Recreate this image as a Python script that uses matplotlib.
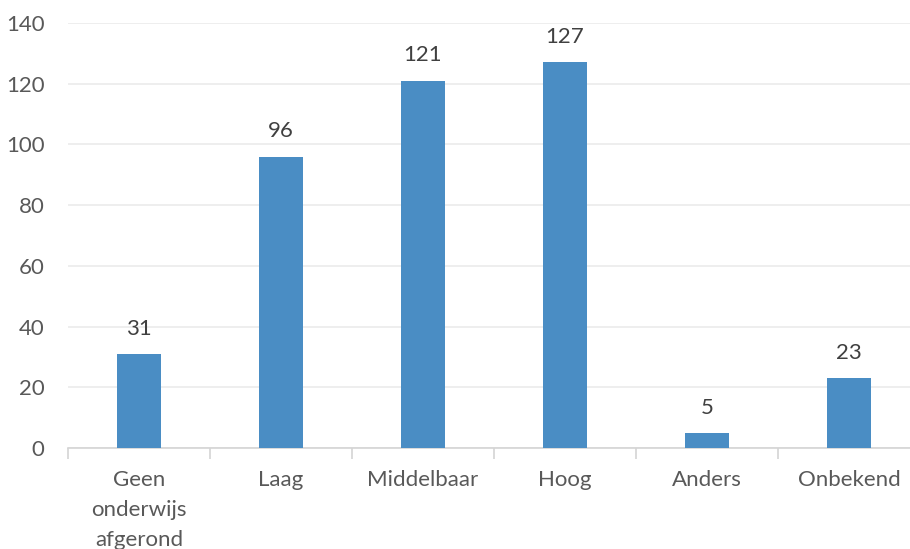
import matplotlib.pyplot as plt
import numpy as np

categorieen = ["Geen\nonderwijs\nafgerond", "Laag", "Middelbaar", "Hoog", "Anders", "Onbekend"]
aantallen = [31, 96, 121, 127, 5, 23]
y_ticks = [0, 20, 40, 60, 80, 100, 120, 140]

plt.rcParams['font.family'] = ['Lato', 'DejaVu Sans']

W, H = 910, 549
fig = plt.figure(figsize=(W / 100, H / 100), dpi=100)
# category slots are 142 px wide, the last one runs past the right edge
ax = fig.add_axes([68 / W, (H - 448) / H, 852 / W, 425 / H])

x = np.arange(len(categorieen))
ax.bar(x, aantallen, width=0.31, color='#4a8dc4', zorder=3)

for xi, v in zip(x, aantallen):
    ax.annotate(str(v), (xi, v), xytext=(0, 11), textcoords='offset points',
                ha='center', va='bottom', fontsize=16, color='#404040')

ax.set_xlim(-0.5, len(categorieen) - 0.5)
ax.set_ylim(0, 140)
ax.set_yticks(y_ticks)
ax.grid(axis='y', color='#ebebeb', linewidth=1.2, zorder=0)

ax.set_xticks(x)
ax.set_xticklabels(categorieen, fontsize=16, color='#595959', linespacing=1.62)
ax.set_xticks(np.arange(len(categorieen) + 1) - 0.5, minor=True)
ax.tick_params(axis='x', which='major', length=0, pad=16)
ax.tick_params(axis='x', which='minor', length=8, color='#d4d4d4', width=1.2)
ax.tick_params(axis='y', length=0, pad=17, labelsize=16, labelcolor='#595959')

for side in ['top', 'right', 'left']:
    ax.spines[side].set_visible(False)
ax.spines['bottom'].set_color('#d4d4d4')
ax.spines['bottom'].set_linewidth(1.2)

fig.savefig('out.png', dpi=100)
